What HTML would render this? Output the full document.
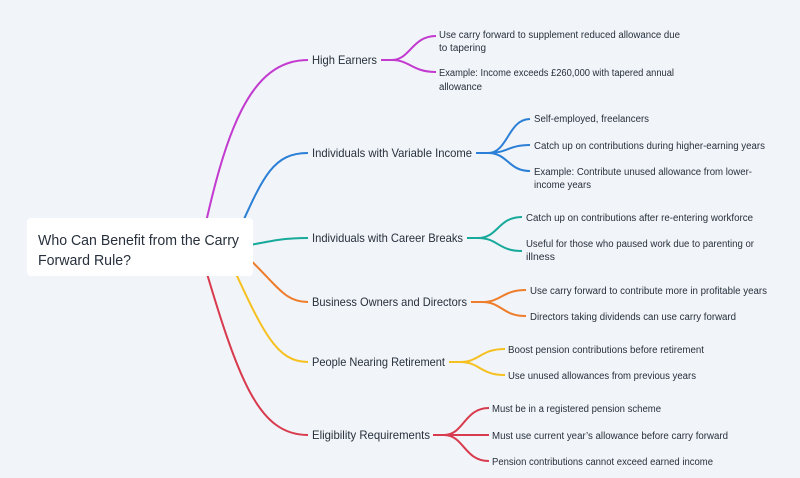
<!DOCTYPE html>
<html><head><meta charset="utf-8"><style>
html,body{margin:0;padding:0;background:#f1f4f8;}
svg{display:block;}
text{font-family:"Liberation Sans",sans-serif;fill:#27303c;}
.b{font-size:12px;}
.l{font-size:10px;}
path{fill:none;stroke-width:2;}
</style></head><body>
<svg width="800" height="478" viewBox="0 0 800 478" xmlns="http://www.w3.org/2000/svg">
<!-- main branches -->
<path stroke="#c23ad0" d="M200,250 C225,130 250,60 308,60"/>
<path stroke="#2b7fd6" d="M230,250 C262,180 270,153 308,153"/>
<path stroke="#17a99a" d="M240,247 C275,240 285,238 308,238"/>
<path stroke="#ee7d2c" d="M240,250 C278,285 283,302 308,302"/>
<path stroke="#f5c020" d="M225,250 C262,330 275,362 308,362"/>
<path stroke="#d83a4e" d="M200,250 C238,380 258,435 308,435"/>
<rect x="27" y="218" width="226" height="58" rx="4" fill="#ffffff"/>
<text x="38" y="245" style="font-size:15px" textLength="201" lengthAdjust="spacingAndGlyphs">Who Can Benefit from the Carry</text>
<text x="38" y="265" style="font-size:15px" textLength="93" lengthAdjust="spacingAndGlyphs">Forward Rule?</text>

<!-- sub branches -->
<path stroke="#c23ad0" d="M381,60 L392,60 C410,60 412,36 436,36 M392,60 C410,60 412,72 436,72"/>
<path stroke="#2b7fd6" d="M476,153 L488,153 C508,153 508,119 530,119 M488,153 C508,153 508,145 530,145 M488,153 C508,153 508,171 530,171"/>
<path stroke="#17a99a" d="M467,238 L478,238 C498,238 498,217 522,217 M478,238 C498,238 498,251 522,251"/>
<path stroke="#ee7d2c" d="M471,302 L482,302 C502,302 502,290 526,290 M482,302 C502,302 502,316 526,316"/>
<path stroke="#f5c020" d="M449,362 L460,362 C480,362 480,349 505,349 M460,362 C480,362 480,375 505,375"/>
<path stroke="#d83a4e" d="M433,435 L444,435 C464,435 464,408 489,408 M444,435 L489,435 M444,435 C464,435 464,461 489,461"/>

<!-- branch labels -->
<text class="b" x="312" y="64" textLength="65" lengthAdjust="spacingAndGlyphs">High Earners</text>
<text class="b" x="312" y="157" textLength="160" lengthAdjust="spacingAndGlyphs">Individuals with Variable Income</text>
<text class="b" x="312" y="242" textLength="151" lengthAdjust="spacingAndGlyphs">Individuals with Career Breaks</text>
<text class="b" x="312" y="306" textLength="155" lengthAdjust="spacingAndGlyphs">Business Owners and Directors</text>
<text class="b" x="312" y="366" textLength="133" lengthAdjust="spacingAndGlyphs">People Nearing Retirement</text>
<text class="b" x="312" y="439" textLength="118" lengthAdjust="spacingAndGlyphs">Eligibility Requirements</text>

<!-- leaves -->
<text class="l" x="439" y="38" textLength="241" lengthAdjust="spacingAndGlyphs">Use carry forward to supplement reduced allowance due</text>
<text class="l" x="439" y="51" textLength="47" lengthAdjust="spacingAndGlyphs">to tapering</text>
<text class="l" x="439" y="76" textLength="235" lengthAdjust="spacingAndGlyphs">Example: Income exceeds £260,000 with tapered annual</text>
<text class="l" x="439" y="90" textLength="43" lengthAdjust="spacingAndGlyphs">allowance</text>

<text class="l" x="534" y="122" textLength="115" lengthAdjust="spacingAndGlyphs">Self-employed, freelancers</text>
<text class="l" x="534" y="149" textLength="231" lengthAdjust="spacingAndGlyphs">Catch up on contributions during higher-earning years</text>
<text class="l" x="534" y="175" textLength="218" lengthAdjust="spacingAndGlyphs">Example: Contribute unused allowance from lower-</text>
<text class="l" x="534" y="188" textLength="57" lengthAdjust="spacingAndGlyphs">income years</text>

<text class="l" x="526" y="221" textLength="227" lengthAdjust="spacingAndGlyphs">Catch up on contributions after re-entering workforce</text>
<text class="l" x="526" y="247" textLength="228" lengthAdjust="spacingAndGlyphs">Useful for those who paused work due to parenting or</text>
<text class="l" x="526" y="260" textLength="29" lengthAdjust="spacingAndGlyphs">illness</text>

<text class="l" x="530" y="294" textLength="237" lengthAdjust="spacingAndGlyphs">Use carry forward to contribute more in profitable years</text>
<text class="l" x="530" y="320" textLength="206" lengthAdjust="spacingAndGlyphs">Directors taking dividends can use carry forward</text>

<text class="l" x="508" y="353" textLength="196" lengthAdjust="spacingAndGlyphs">Boost pension contributions before retirement</text>
<text class="l" x="508" y="379" textLength="188" lengthAdjust="spacingAndGlyphs">Use unused allowances from previous years</text>

<text class="l" x="492" y="412" textLength="169" lengthAdjust="spacingAndGlyphs">Must be in a registered pension scheme</text>
<text class="l" x="492" y="439" textLength="236" lengthAdjust="spacingAndGlyphs">Must use current year’s allowance before carry forward</text>
<text class="l" x="492" y="465" textLength="221" lengthAdjust="spacingAndGlyphs">Pension contributions cannot exceed earned income</text>
</svg>
</body></html>
